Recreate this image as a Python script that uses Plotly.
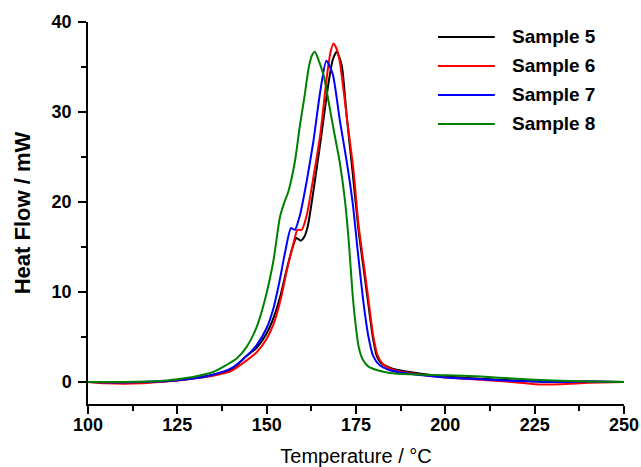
import plotly.graph_objects as go

# ---- data ----
series_names = ["Sample 5", "Sample 6", "Sample 7", "Sample 8"]
series_colors = ["#000000", "#ff0000", "#0000ff", "#008000"]

temp_s5 = [100, 110, 120, 125, 130, 135, 140, 144.4, 147.2, 150, 152, 154, 155.6, 157, 158.3, 159.5,
           160.5, 161.5, 163, 165, 167.3, 168.5, 169.6, 171, 172.4, 174, 175.7, 177.2, 178.5, 179.7,
           180.8, 182, 185, 190, 200, 210, 220, 230, 240, 250]
hf_s5 = [0, -0.05, 0.05, 0.2, 0.45, 0.8, 1.35, 2.9, 3.8, 5.4, 7.2, 9.8, 12.5, 14.6, 16.0, 15.7,
         16.1, 17.3, 21.0, 26.5, 33.2, 35.8, 36.7, 35.2, 29.5, 23.5, 16.9, 12.4, 8.5, 5.0,
         2.9, 2.1, 1.5, 1.1, 0.6, 0.35, 0.15, 0.0, 0.05, 0]

temp_s6 = [100, 105, 110, 115, 120, 125, 130, 135, 140, 144.4, 147.2, 150, 152, 154, 155.6, 157.5,
           158.6, 159.8, 161.2, 163.1, 165, 166.8, 167.8, 168.7, 169.6, 170.5, 172.4, 174.3, 175.7,
           177.2, 178.6, 179.8, 181, 182.5, 185, 190, 200, 210, 220, 225, 232, 240, 250]
hf_s6 = [0, -0.15, -0.2, -0.15, 0.0, 0.15, 0.4, 0.7, 1.2, 2.4, 3.3, 4.8, 6.5, 9.3, 12.3, 15.4,
         16.9, 16.9, 18.5, 22.8, 27.5, 33.8, 36.5, 37.6, 37.0, 35.5, 29.5, 23.5, 17.5,
         13.0, 8.8, 5.2, 3.0, 2.0, 1.4, 1.0, 0.5, 0.25, -0.05, -0.25, -0.25, -0.1, 0]

temp_s7 = [100, 110, 120, 125, 130, 135, 140, 144.4, 147.2, 150, 151.9, 153.5, 155.1, 156.8, 157.9,
           159.3, 161.2, 163.1, 165, 166.7, 168.5, 170.5, 172.4, 174.1, 175.5, 177, 178.5, 179.8,
           181.5, 184.5, 190, 200, 210, 220, 230, 240, 250]
hf_s7 = [0, -0.05, 0.05, 0.2, 0.4, 0.8, 1.5, 2.9, 4.1, 6.0, 8.2, 11.0, 14.3, 17.1, 16.9,
         18.5, 22.3, 26.8, 32.3, 35.7, 34.2, 29.0, 24.5, 19.8, 14.5, 9.1, 5.0, 2.9,
         1.9, 1.3, 0.9, 0.5, 0.3, 0.1, 0.0, 0.05, 0]

temp_s8 = [100, 110, 120, 125, 130, 135, 138.8, 141.6, 144.4, 147.2, 149.5, 151.9, 153.7, 154.9,
           156.1, 157.9, 159.3, 160.5, 161.8, 162.7, 163.5, 164.5, 166, 167.4, 169, 170.5, 171.9,
           173, 174.1, 175, 175.8, 177, 178.5, 181, 184.5, 190, 200, 210, 220, 230, 240, 250]
hf_s8 = [0, 0, 0.1, 0.3, 0.6, 1.1, 1.9, 2.6, 3.9, 6.1, 9.1, 13.5, 18.3, 19.9,
         21.2, 24.5, 28.5, 31.5, 35.0, 36.3, 36.7, 35.8, 34.0, 31.0, 27.5, 24.3, 20.2,
         15.5, 9.5, 6.0, 3.8, 2.4, 1.7, 1.3, 1.0, 0.85, 0.75, 0.6, 0.35, 0.15, 0.05, 0]

x_tick_vals = [100, 125, 150, 175, 200, 225, 250]
y_tick_vals = [0, 10, 20, 30, 40]

temps = [temp_s5, temp_s6, temp_s7, temp_s8]
flows = [hf_s5, hf_s6, hf_s7, hf_s8]

FONT = "Liberation Sans, Arial, sans-serif"

fig = go.Figure()
for name, color, t, h in zip(series_names, series_colors, temps, flows):
    fig.add_trace(go.Scatter(
        x=t, y=h, mode="lines", name=name, showlegend=False,
        line=dict(color=color, width=2, shape="spline", smoothing=0.6),
    ))

# custom legend (long line samples like the reference)
leg_x0, leg_x1, leg_tx = 0.653, 0.759, 0.787
leg_top, leg_step = 0.961, 0.076
for i, (name, color) in enumerate(zip(series_names, series_colors)):
    yy = leg_top - i * leg_step
    fig.add_shape(type="line", xref="paper", yref="paper", x0=leg_x0, x1=leg_x1, y0=yy, y1=yy,
                  line=dict(color=color, width=2))
    fig.add_annotation(xref="paper", yref="paper", x=leg_tx, y=yy, text="<b>%s</b>" % name,
                       showarrow=False, xanchor="left", yanchor="middle",
                       font=dict(family=FONT, size=19, color="#000"))

axis_common = dict(
    showline=True, linecolor="#000", linewidth=1.5, showgrid=False, zeroline=False,
    ticks="outside", ticklen=8, tickwidth=1.5, tickcolor="#000",
    tickfont=dict(family=FONT, size=18, color="#000", weight="bold"),
    mirror=False, automargin=False,
)

fig.update_xaxes(
    range=[100, 250], tickvals=x_tick_vals, ticklabelstandoff=-4,
    title=dict(text="Temperature / °C", font=dict(family=FONT, size=20, color="#000")),
    minor=dict(ticks="outside", ticklen=5, tickwidth=1.5, tickcolor="#000", dtick=12.5, tick0=100),
    **axis_common,
)
fig.update_yaxes(
    range=[-2.45, 40], tickvals=y_tick_vals, ticklabelstandoff=3,
    title=dict(text="<b>Heat Flow / mW</b>", font=dict(family=FONT, size=22, color="#000")),
    minor=dict(ticks="outside", ticklen=5, tickwidth=1.5, tickcolor="#000", dtick=5, tick0=0),
    **axis_common,
)

fig.update_layout(
    width=641, height=467,
    margin=dict(l=88, r=17, t=22, b=63),
    paper_bgcolor="white", plot_bgcolor="white",
    font=dict(family=FONT, color="#000"),
)

fig.write_html("out.html", config={"displayModeBar": False},
               post_script="document.body.style.margin='0';")
